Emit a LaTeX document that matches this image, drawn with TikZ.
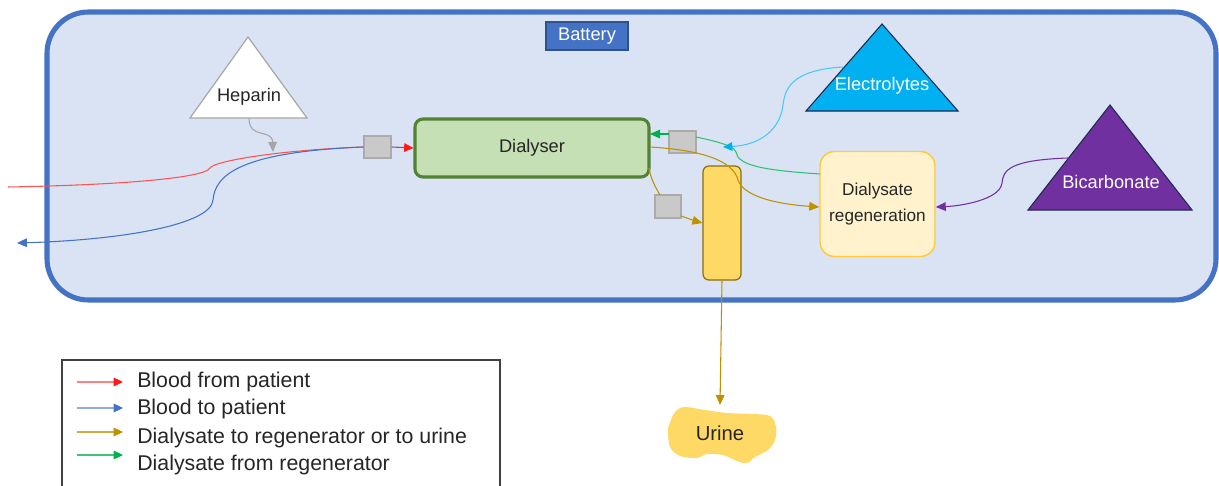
\documentclass[tikz,border=0pt]{standalone}
\usepackage{fontspec}
\setmainfont{Liberation Sans}
\usetikzlibrary{arrows.meta}

\definecolor{batfill}{HTML}{DAE3F3}
\definecolor{batline}{HTML}{4472C4}
\definecolor{labline}{HTML}{2F528F}
\definecolor{diafill}{HTML}{C5E0B4}
\definecolor{dialine}{HTML}{548235}
\definecolor{regfill}{HTML}{FFF2CC}
\definecolor{regline}{HTML}{FFC93C}
\definecolor{tankfill}{HTML}{FFD966}
\definecolor{tankline}{HTML}{8C6D0A}
\definecolor{valvefill}{HTML}{C9C9C9}
\definecolor{valveline}{HTML}{ABABAB}
\definecolor{txt}{HTML}{262626}
\definecolor{cred}{HTML}{FF1A1A}
\definecolor{cblue}{HTML}{4472C4}
\definecolor{cgold}{HTML}{BF9000}
\definecolor{cgreen}{HTML}{00B050}
\definecolor{ccyan}{HTML}{00B0F0}
\definecolor{cpurple}{HTML}{7030A0}
\definecolor{cgray}{HTML}{A6A6A6}
\definecolor{darkedge}{HTML}{1F2A4F}
\definecolor{legline}{HTML}{404040}

\tikzset{
  lbl/.style={text=txt, font=\fontsize{13.7}{16}\selectfont},
  box/.style args={#1x#2}{minimum width=#1*0.75pt, minimum height=#2*0.75pt, inner sep=0pt},
  valve/.style={box=27x22, fill=valvefill, draw=valveline, line width=1.1pt},
  tip/.style={-{Triangle[length=7.5pt,width=6.5pt]}},
  ctip/.style={-{Triangle[length=7pt,width=6.5pt,color=#1]}},
  wire/.style={line width=0.8pt},
}

\begin{document}
\begin{tikzpicture}[x=0.75pt,y=-0.75pt]
\useasboundingbox (0,0) rectangle (1219,485);
\fill[white] (0,0) rectangle (1219,485);

% battery housing
\draw[fill=batfill, draw=batline, line width=3.8pt, rounded corners=31pt] (47,12) rectangle (1216,300);
\node[box=82x28, fill=batline, draw=labline, line width=0.8pt, text=white,
      font=\fontsize{13.7}{16}\selectfont] (bat) at (587,36) {Battery};

% additive reservoirs
\draw[fill=white, draw=cgray, line width=0.9pt] (248,37) -- (307,118) -- (190,118) -- cycle;
\node[lbl] (hep) at (249,97) {Heparin};
\draw[fill=ccyan, draw=darkedge, line width=0.8pt] (882,24) -- (958,111) -- (806,111) -- cycle;
\node[lbl, text=white] (ely) at (882,86) {Electrolytes};
\draw[fill=cpurple, draw=darkedge, line width=0.8pt] (1110,105) -- (1192,210) -- (1028,210) -- cycle;
\node[lbl, text=white] (bic) at (1111,182) {Bicarbonate};

% main units
\node[box=234x58, fill=diafill, draw=dialine, line width=2.3pt, rounded corners=6pt, lbl] (dia) at (532,148) {Dialyser};
\node[box=115x105, fill=regfill, draw=regline, line width=1.1pt, rounded corners=11pt, lbl,
      align=center, font=\fontsize{12.9}{19}\selectfont] (reg) at (877.5,204) {Dialysate\\regeneration};
\node[box=38x114, fill=tankfill, draw=tankline, line width=0.9pt, rounded corners=4.5pt] (tank) at (722,223) {};

% valves
\node[valve] (v1) at (377.5,147) {};
\node[valve] (v2) at (682.5,142) {};
\node[valve, box=26x23] (v3) at (668,206.5) {};

% urine
\fill[tankfill] plot[smooth cycle, tension=0.55] coordinates {
  (675,412) (684,407) (705,410) (727,413) (752,414) (770,416) (776,427) (775,440)
  (768,450) (755,457) (747,463) (737,461) (723,455) (707,454) (697,458) (680,456)
  (670,447) (668,430) (671,420)};
\node[lbl, font=\fontsize{15.2}{18}\selectfont] (uri) at (720,433) {Urine};

% free ends and attachment points
\coordinate (pin) at (8,187);
\coordinate (pout) at (17,243);
\coordinate (hepout) at (249,118);
\coordinate (hepin) at (273,152);
\coordinate (elyout) at (843,67);
\coordinate (elyin) at (723,147);
\coordinate (bicout) at (1068,158);
\coordinate (regout) at (820,174);
\coordinate (v2r) at (696,137);
\coordinate (v2l) at (669,134);
\coordinate (diain) at (650,134);
\coordinate (diaout) at (650,147);
\coordinate (diadrain) at (649,168);
\coordinate (v3t) at (660,195);
\coordinate (v3r) at (681,216);

% blood circuit
\draw[cred!45!cblue, wire, ctip=cred] (v1.east) -- (dia.west);
\draw[cred!75!white, wire] (pin) .. controls (120,185) and (205,178) .. (210,168)
                         .. controls (214,161) and (280,150) .. (v1.west);
\draw[cblue, wire, tip] (v1.west) .. controls (240,152) and (215,175) .. (213,200)
                         .. controls (211,225) and (120,240) .. (pout);
\draw[cgray, wire, tip] (hepout) .. controls (249,140) and (272,128) .. (hepin);

% dialysate circuit
\draw[cgold, wire, tip] (diaout) .. controls (700,150) and (733,160) .. (738,180)
                         .. controls (745,200) and (790,205) .. (reg.west |- 0,207);
\draw[cgold, wire] (diadrain) .. controls (651,180) and (656,188) .. (v3t);
\draw[cgold, wire, tip] (v3r) .. controls (690,219) and (695,221) .. (tank.west |- 0,223);
\draw[cgold, wire, tip] (tank.south) -- (uri.north |- 0,405);
\draw[cgreen!80!white, wire] (regout) .. controls (760,170) and (738,165) .. (736,152)
                         .. controls (734,145) and (710,140) .. (v2r);
\draw[cgreen, wire, tip] (v2l) -- (diain);
\draw[ccyan!70!white, wire, ctip=ccyan] (elyout) .. controls (790,70) and (785,90) .. (783,105)
                         .. controls (780,130) and (760,145) .. (elyin);
\draw[cpurple, wire, tip] (bicout) .. controls (1010,160) and (1003,170) .. (1002,183)
                         .. controls (1000,200) and (960,206) .. (reg.east |- 0,207);

% legend
\draw[fill=white, draw=legline, line width=1pt] (62,360) rectangle (500,495);
\coordinate (l1a) at (77,382); \coordinate (l1b) at (123,382);
\coordinate (l2a) at (77,408); \coordinate (l2b) at (123,408);
\coordinate (l3a) at (77,432); \coordinate (l3b) at (123,432);
\coordinate (l4a) at (77,455); \coordinate (l4b) at (123,455);
\draw[cred!55!white, wire, ctip=cred] (l1a) -- (l1b);
\draw[cblue!60!white, wire, ctip=cblue] (l2a) -- (l2b);
\draw[cgold!75!white, wire, ctip=cgold] (l3a) -- (l3b);
\draw[cgreen!75!white, wire, ctip=cgreen] (l4a) -- (l4b);
\begin{scope}[every node/.style={lbl, anchor=west, inner sep=0pt, font=\fontsize{16}{18}\selectfont}]
\node (t1) at (137,382) {Blood from patient};
\node (t2) at (137,409) {Blood to patient};
\node (t3) at (137,438) {Dialysate to regenerator or to urine};
\node (t4) at (137,465) {Dialysate from regenerator};
\end{scope}
\end{tikzpicture}
\end{document}
